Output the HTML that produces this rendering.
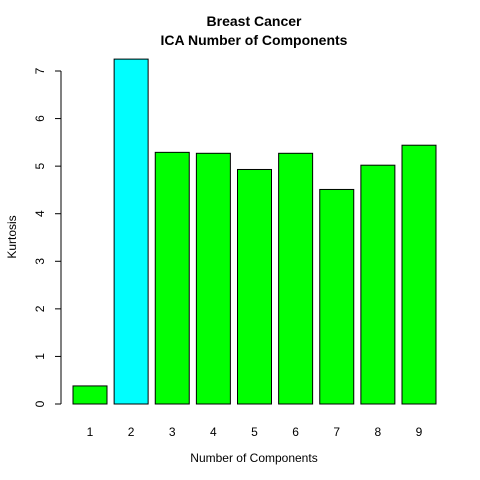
<!DOCTYPE html>
<html><head><meta charset="utf-8"><style>
body{margin:0;background:#fff}
svg{display:block;font-family:"Liberation Sans",Arial,sans-serif}
</style></head><body>
<svg id="chart" width="480" height="480">
<rect width="480" height="480" fill="#fff"/>
<text x="254" y="26" text-anchor="middle" font-size="14" font-weight="bold">Breast Cancer</text>
<text x="254" y="45" text-anchor="middle" font-size="14" font-weight="bold">ICA Number of Components</text>
<text x="254" y="462" text-anchor="middle" font-size="12">Number of Components</text>
<text transform="translate(16,237) rotate(-90)" text-anchor="middle" font-size="12">Kurtosis</text>
<g id="bars"></g><g id="yaxis"></g><g id="xlabels"></g>
</svg>
<script>
const categories=["1","2","3","4","5","6","7","8","9"];
const kurtosis=[0.38,7.25,5.29,5.27,4.93,5.27,4.51,5.02,5.44];
const barColors=["#00ff00","#00ffff","#00ff00","#00ff00","#00ff00","#00ff00","#00ff00","#00ff00","#00ff00"];
const yTicks=[0,1,2,3,4,5,6,7];
const NS="http://www.w3.org/2000/svg";
function y(v){return 404-v*(404-71)/7;}
function xLeft(i){return 73+i*41.125;}
const bw=34;
const bars=document.getElementById('bars');
kurtosis.forEach((v,i)=>{
  const r=document.createElementNS(NS,'rect');
  r.setAttribute('x',xLeft(i));r.setAttribute('y',y(v));
  r.setAttribute('width',bw);r.setAttribute('height',y(0)-y(v));
  r.setAttribute('fill',barColors[i]);r.setAttribute('stroke','#000');r.setAttribute('stroke-width','1');
  
  
  bars.appendChild(r);
});
const xl=document.getElementById('xlabels');
categories.forEach((c,i)=>{
  const t=document.createElementNS(NS,'text');
  t.setAttribute('x',xLeft(i)+bw/2);t.setAttribute('y',436);
  t.setAttribute('text-anchor','middle');t.setAttribute('font-size','12');
  t.textContent=c;
  
  
  xl.appendChild(t);
});
const ya=document.getElementById('yaxis');
const ax=document.createElementNS(NS,'line');
ax.setAttribute('x1',61);ax.setAttribute('x2',61);ax.setAttribute('y1',y(0));ax.setAttribute('y2',y(7));
ax.setAttribute('stroke','#000');


ya.appendChild(ax);
yTicks.forEach(v=>{
  const l=document.createElementNS(NS,'line');
  l.setAttribute('x1',55);l.setAttribute('x2',61);l.setAttribute('y1',y(v));l.setAttribute('y2',y(v));
  l.setAttribute('stroke','#000');
  
  
  ya.appendChild(l);
  const t=document.createElementNS(NS,'text');
  t.setAttribute('transform','translate(44,'+y(v)+') rotate(-90)');
  t.setAttribute('text-anchor','middle');t.setAttribute('font-size','12');
  t.textContent=v;
  
  
  ya.appendChild(t);
});
</script>
</body></html>
